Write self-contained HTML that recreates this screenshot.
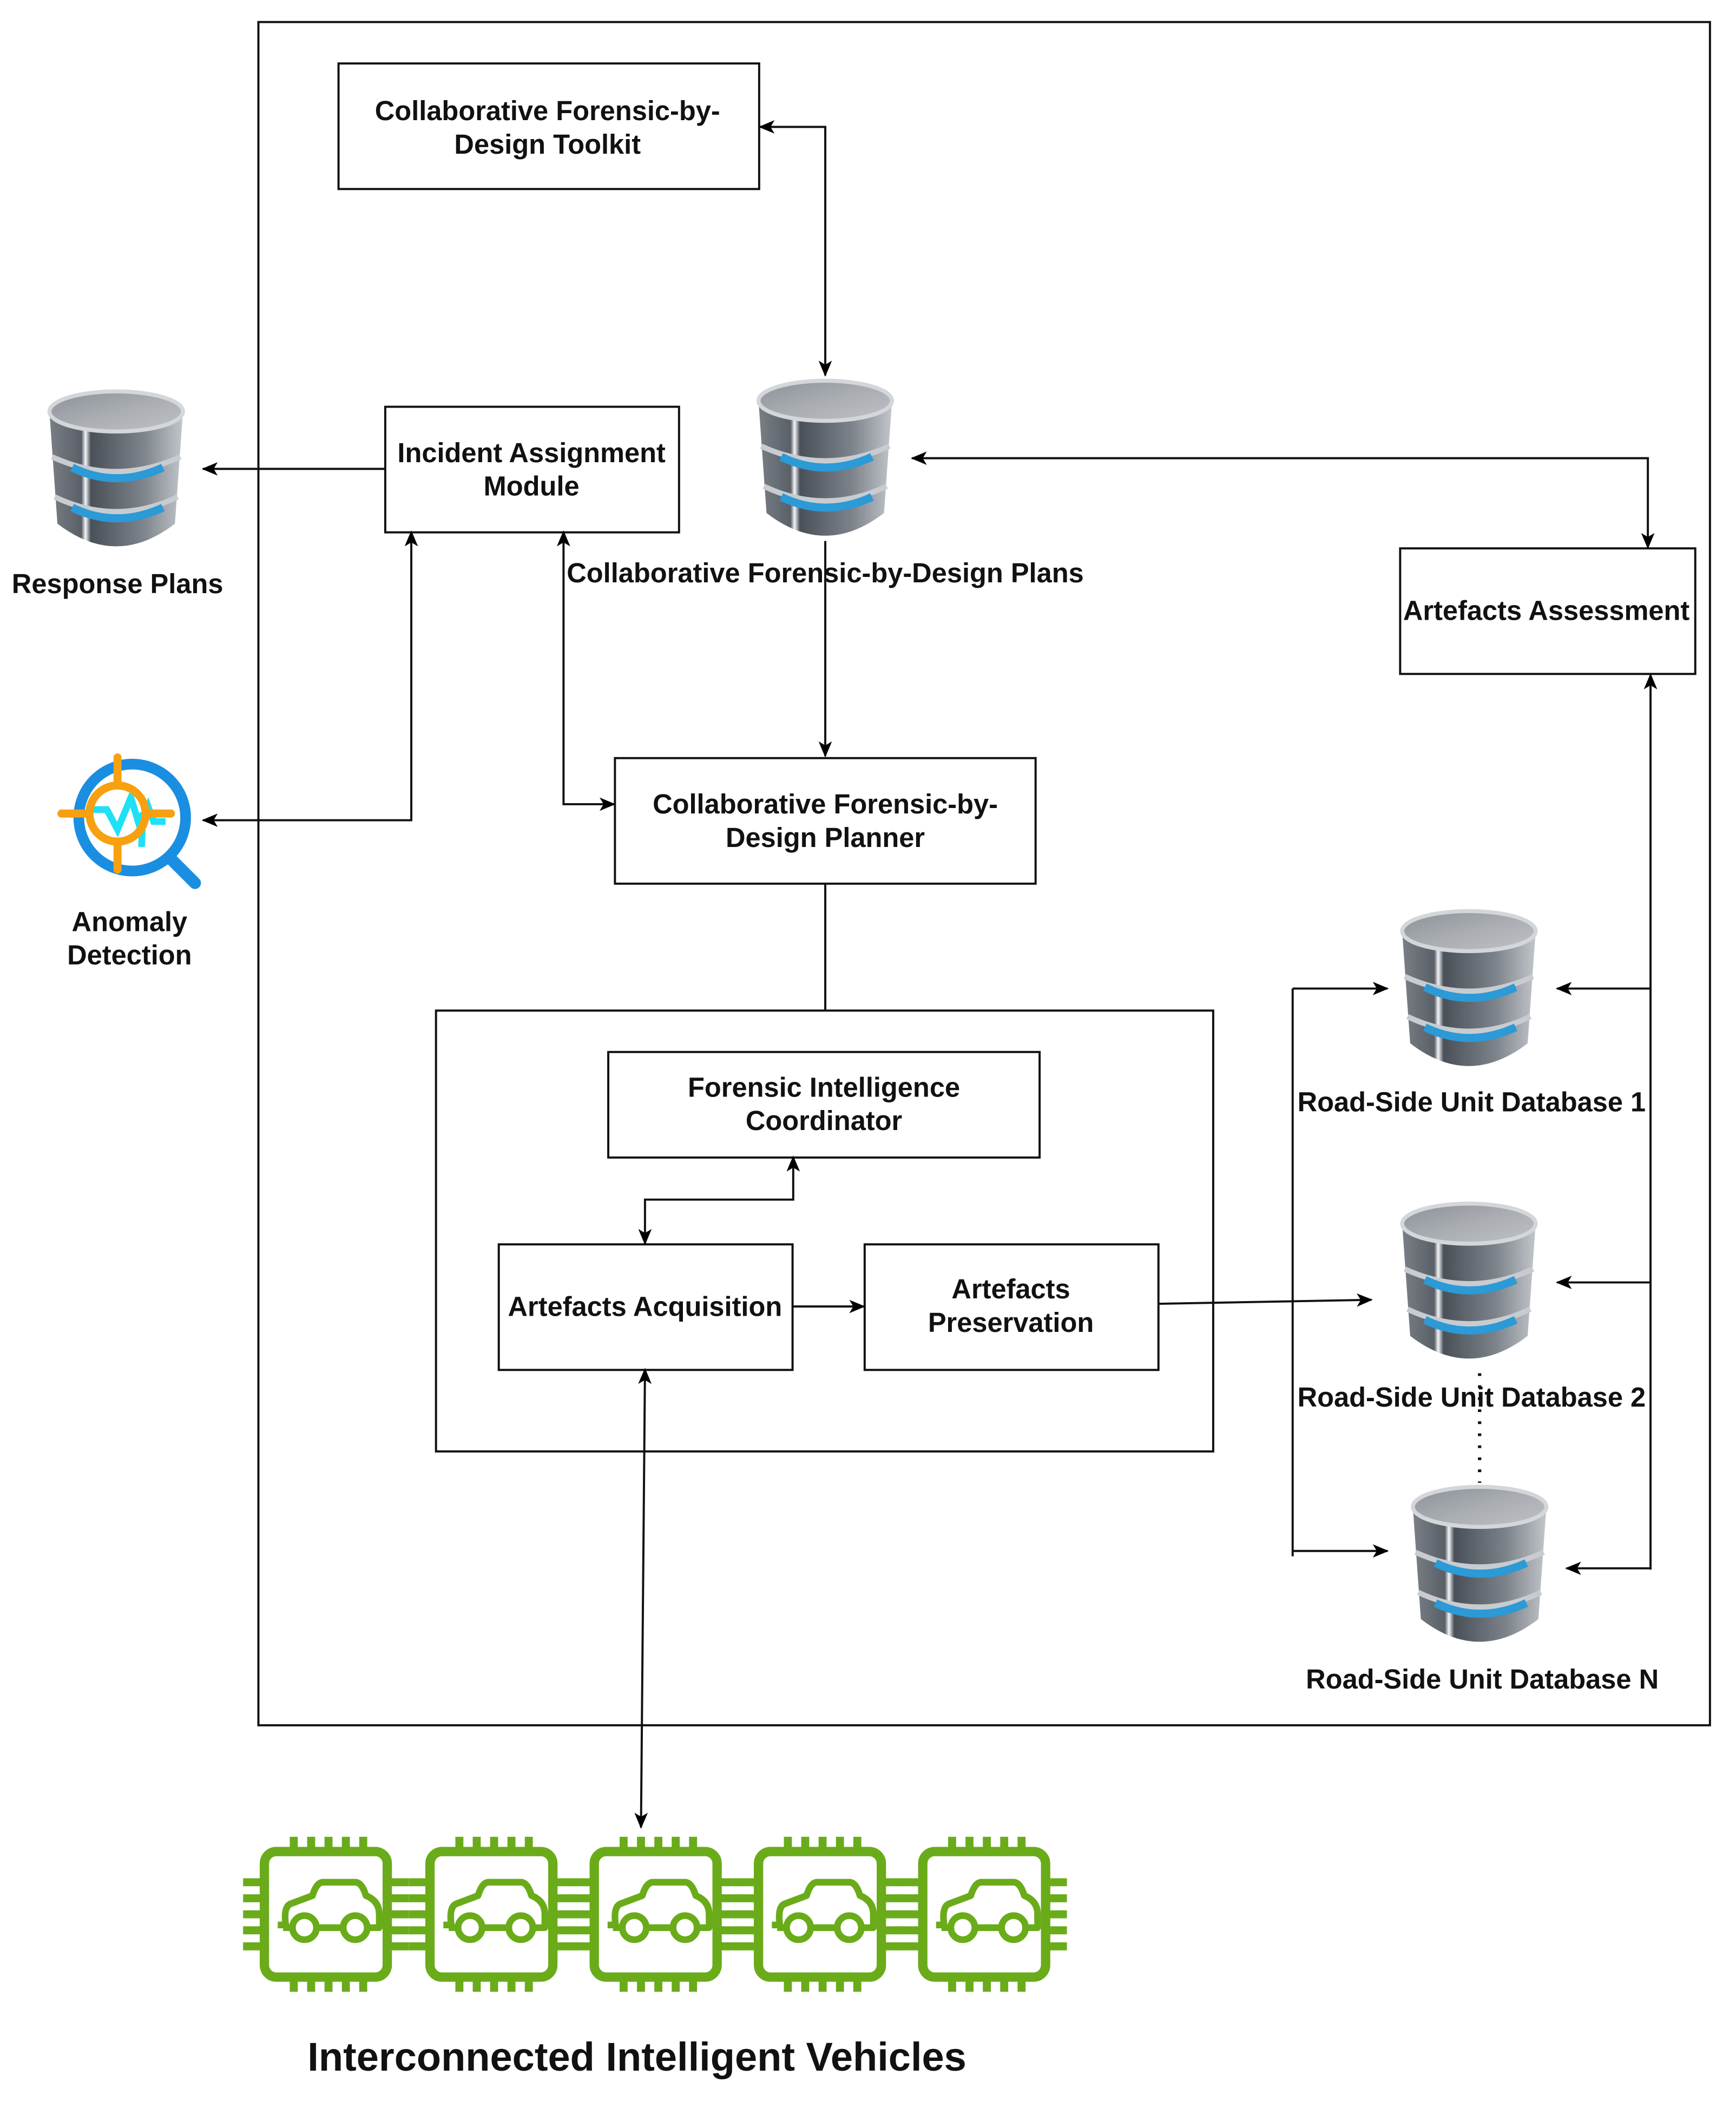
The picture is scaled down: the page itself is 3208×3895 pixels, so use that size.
<!DOCTYPE html>
<html><head><meta charset="utf-8"><style>
html,body{margin:0;padding:0;background:#fff}
svg{display:block}
text{font-family:"Liberation Sans Narrow","Liberation Sans",sans-serif;font-weight:bold;fill:#111;font-size:20.5px;text-anchor:middle}
</style></head><body>
<svg width="3208" height="3895" viewBox="0 0 1300 1578" preserveAspectRatio="none" xmlns="http://www.w3.org/2000/svg">
<defs>
<linearGradient id="gb" x1="0" x2="1" y1="0" y2="0">
<stop offset="0" stop-color="#7a7f86"/><stop offset="0.24" stop-color="#5a6068"/><stop offset="0.27" stop-color="#f4f6f8"/><stop offset="0.31" stop-color="#4a5058"/><stop offset="0.7" stop-color="#7d838a"/><stop offset="1" stop-color="#c2c6cb"/>
</linearGradient>
<linearGradient id="gt" x1="0" x2="1" y1="0" y2="1">
<stop offset="0" stop-color="#8c9198"/><stop offset="0.5" stop-color="#a9adb2"/><stop offset="1" stop-color="#bfc3c7"/>
</linearGradient>
<marker id="a" viewBox="0 0 12 10" refX="11" refY="5" markerWidth="12" markerHeight="10" orient="auto-start-reverse" markerUnits="userSpaceOnUse">
<path d="M0,0 L12,5 L0,10 L3,5 Z" fill="#000"/>
</marker>
<symbol id="db" viewBox="0 0 106 124">
<path d="M3,18 L9,102 Q53,136 97,102 L103,18 Z" fill="url(#gb)"/>
<path d="M5,52 Q53,74 101,52" stroke="#c8ccd0" stroke-width="4" fill="none"/>
<path d="M20,60 Q53,76 88,60" stroke="#2b9ad6" stroke-width="6" fill="none"/>
<path d="M7,82 Q53,104 99,82" stroke="#c8ccd0" stroke-width="4" fill="none"/>
<path d="M20,90 Q53,106 88,90" stroke="#2b9ad6" stroke-width="6" fill="none"/>
<ellipse cx="53" cy="18" rx="50" ry="15" fill="url(#gt)" stroke="#d4d7da" stroke-width="3"/>
</symbol>
<symbol id="chip" viewBox="0 0 124 120">
<g fill="none" stroke="#6aab1a" stroke-width="6">
<rect x="16" y="13" width="92" height="94" rx="9" stroke-width="7"/>
<path d="M38,2V13M51,2V13M64,2V13M77,2V13M90,2V13M38,107V118M51,107V118M64,107V118M77,107V118M90,107V118M0,36H16M0,48H16M0,60H16M0,72H16M0,84H16M108,36H124M108,48H124M108,60H124M108,72H124M108,84H124"/>
<path d="M26,68 L32,68 Q30,54 36,52 L52,46 Q55,36 60,36 L84,36 Q89,36 92,46 Q102,50 102,60 L102,70 L30,70" stroke-width="5" stroke-linejoin="round"/>
<circle cx="46" cy="70" r="9" fill="#fff" stroke-width="5"/>
<circle cx="84" cy="70" r="9" fill="#fff" stroke-width="5"/>
</g>
</symbol>
</defs>

<rect x="193.5" y="16.5" width="1087" height="1275" fill="none" stroke="#111" stroke-width="1.6"/>
<rect x="326.5" y="756.5" width="582" height="330" fill="none" stroke="#111" stroke-width="1.6"/>

<g fill="#fff" stroke="#111" stroke-width="1.6">
<rect x="253.5" y="47.5" width="315" height="94"/>
<rect x="288.5" y="304.5" width="220" height="94"/>
<rect x="460.5" y="567.5" width="315" height="94"/>
<rect x="1048.5" y="410.5" width="221" height="94"/>
<rect x="455.5" y="787.5" width="323" height="79"/>
<rect x="373.5" y="931.5" width="220" height="94"/>
<rect x="647.5" y="931.5" width="220" height="94"/>
</g>

<g fill="none" stroke="#111" stroke-width="1.6">
<path d="M569,95 H618 V281" marker-start="url(#a)" marker-end="url(#a)"/>
<path d="M618,405 V566" marker-end="url(#a)"/>
<path d="M288,351 H152" marker-end="url(#a)"/>
<path d="M152,614 H308 V398" marker-start="url(#a)" marker-end="url(#a)"/>
<path d="M422,398 V602 H460" marker-start="url(#a)" marker-end="url(#a)"/>
<path d="M683,343 H1234 V410" marker-start="url(#a)" marker-end="url(#a)"/>
<path d="M618,661 V756"/>
<path d="M594,866 V898 H483 V931" marker-start="url(#a)" marker-end="url(#a)"/>
<path d="M593,978 H647" marker-end="url(#a)"/>
<path d="M867,976 L1027,973" marker-end="url(#a)"/>
<path d="M968,740 V1165"/>
<path d="M968,740 H1039" marker-end="url(#a)"/>
<path d="M968,1161 H1039" marker-end="url(#a)"/>
<path d="M1236,505 V1175" marker-start="url(#a)"/>
<path d="M1236,740 H1166" marker-end="url(#a)"/>
<path d="M1236,960 H1166" marker-end="url(#a)"/>
<path d="M1236,1174 H1173" marker-end="url(#a)"/>
<path d="M483,1025 L480,1368" marker-start="url(#a)" marker-end="url(#a)"/>
<path d="M1108,1028 V1110" stroke-dasharray="2,7" stroke-width="2.5"/>
</g>

<use href="#db" x="34" y="290" width="106" height="124"/>
<use href="#db" x="565" y="282" width="106" height="124"/>
<use href="#db" x="1047" y="679" width="106" height="124"/>
<use href="#db" x="1047" y="898" width="106" height="124"/>
<use href="#db" x="1055" y="1110" width="106" height="124"/>

<g fill="none" stroke-linecap="round">
<circle cx="99" cy="612" r="40" stroke="#1a8ee0" stroke-width="8"/>
<path d="M127,642 L146,661" stroke="#1a8ee0" stroke-width="9"/>
<path d="M68,606 H80 L88,621 L98,597 L105,620 L111,604 L115,615 L124,615 M107,608 L106,634" stroke="#1fe0f5" stroke-width="5" stroke-linecap="butt"/>
<circle cx="88" cy="609" r="21" stroke="#f7a010" stroke-width="6"/>
<path d="M46,609 H66 M110,609 H128 M88,567 V588 M88,630 V651" stroke="#f7a010" stroke-width="6"/>
</g>

<use href="#chip" x="182" y="1373" width="124" height="120"/>
<use href="#chip" x="306" y="1373" width="124" height="120"/>
<use href="#chip" x="429" y="1373" width="124" height="120"/>
<use href="#chip" x="552" y="1373" width="124" height="120"/>
<use href="#chip" x="675" y="1373" width="124" height="120"/>

<text x="410" y="90">Collaborative Forensic-by-</text>
<text x="410" y="115">Design Toolkit</text>
<text x="398" y="346">Incident Assignment</text>
<text x="398" y="371">Module</text>
<text x="618" y="436">Collaborative Forensic-by-Design Plans</text>
<text x="88" y="444">Response Plans</text>
<text x="1158" y="464">Artefacts Assessment</text>
<text x="618" y="609">Collaborative Forensic-by-</text>
<text x="618" y="634">Design Planner</text>
<text x="97" y="697">Anomaly</text>
<text x="97" y="722">Detection</text>
<text x="617" y="821">Forensic Intelligence</text>
<text x="617" y="846">Coordinator</text>
<text x="483" y="985">Artefacts Acquisition</text>
<text x="757" y="972">Artefacts</text>
<text x="757" y="997">Preservation</text>
<text x="1102" y="832">Road-Side Unit Database 1</text>
<text x="1102" y="1053">Road-Side Unit Database 2</text>
<text x="1110" y="1264">Road-Side Unit Database N</text>
<text x="477" y="1550" style="font-size:30px">Interconnected Intelligent Vehicles</text>
</svg>
</body></html>
